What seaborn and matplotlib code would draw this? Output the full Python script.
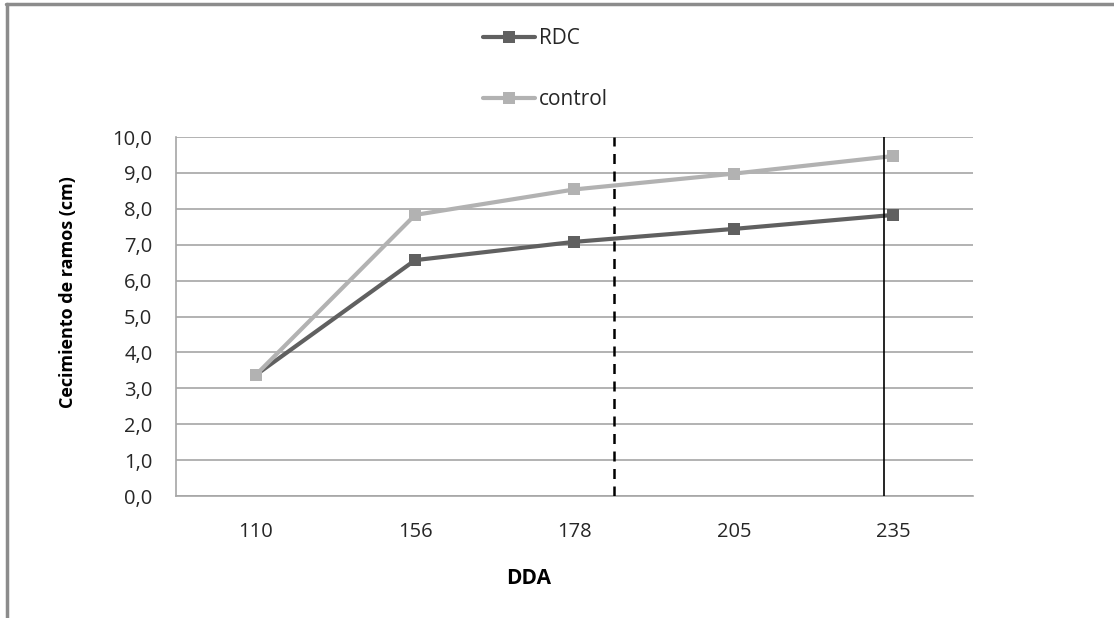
import pandas as pd
import seaborn as sns
import matplotlib.pyplot as plt
from matplotlib.lines import Line2D

# datos
dda = ["110", "156", "178", "205", "235"]
rdc = [3.37, 6.57, 7.08, 7.44, 7.83]
control = [3.37, 7.83, 8.54, 8.98, 9.47]

series = ["RDC", "control"]
colores = {"RDC": "#606060", "control": "#b2b2b2"}

df = pd.DataFrame({
    "DDA": dda * 2,
    "valor": rdc + control,
    "serie": ["RDC"] * len(dda) + ["control"] * len(dda),
})

sns.set_style("white")
plt.rcParams["font.family"] = ["Open Sans", "DejaVu Sans"]

fig = plt.figure(figsize=(11.14, 6.18), dpi=100)
ax = fig.add_axes([0.158, 0.1974, 0.7154, 0.5809])

sns.lineplot(data=df, x="DDA", y="valor", hue="serie", style="serie",
             markers={"RDC": "s", "control": "s"}, dashes=False,
             palette=colores, linewidth=3, markersize=9, markeredgewidth=0,
             legend=False, ax=ax, zorder=3)

# lineas verticales
ax.axvline(2.25, color="black", lw=1.8, ls=(0, (4, 3)), zorder=4)
ax.axvline(3.94, color="black", lw=1.2, zorder=4)

ax.set_xlim(-0.5, 4.5)
ax.set_ylim(0, 10)
ax.set_yticks(range(0, 11))
ax.set_yticklabels([f"{v:.1f}".replace(".", ",") for v in range(0, 11)])
ax.yaxis.grid(True, color="#a6a6a6", lw=1.2)
ax.xaxis.grid(False)
ax.tick_params(axis="both", length=0, labelsize=14.5, colors="#262626", pad=17)
ax.tick_params(axis="x", pad=19)
for s in ["top", "right"]:
    ax.spines[s].set_visible(False)
for s in ["left", "bottom"]:
    ax.spines[s].set_color("#a6a6a6")
    ax.spines[s].set_linewidth(1.2)

ax.set_xlabel("DDA", fontsize=15, fontweight="bold", color="black")
ax.xaxis.set_label_coords(0.443, -0.2)
ax.set_ylabel("Cecimiento de ramos (cm)", fontsize=13, fontweight="bold",
              color="black")
ax.yaxis.set_label_coords(-0.124, 0.568)

# leyenda arriba
handles = [Line2D([], [], color=colores[s], lw=3, marker="s", markersize=9,
                  markeredgewidth=0) for s in series]
fig.legend(handles, series, loc="upper left", bbox_to_anchor=(0.4165, 0.985),
           frameon=False, fontsize=15, labelspacing=1.93, handlelength=2.5,
           handletextpad=0.2)

# marco exterior
fig.add_artist(Line2D([0.005, 1.0], [0.994, 0.994], color="#8c8c8c", lw=2.5,
                      transform=fig.transFigure))
fig.add_artist(Line2D([0.006, 0.006], [0.0, 0.994], color="#8c8c8c", lw=2.5,
                      transform=fig.transFigure))

fig.savefig("out.png", dpi=100)
